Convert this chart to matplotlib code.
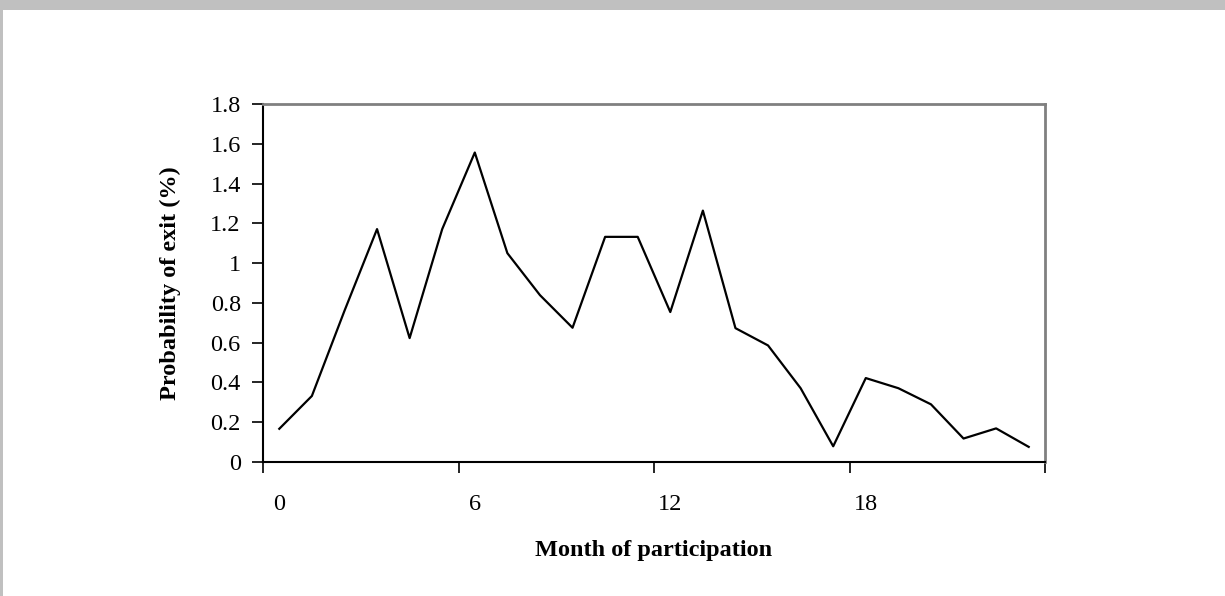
import numpy as np
import matplotlib
matplotlib.use("Agg")
import matplotlib.pyplot as plt
from matplotlib.patches import Rectangle

# monthly exit probability (%)
months = list(range(24))
exit_prob = [0.167, 0.332, 0.76, 1.171, 0.623, 1.171, 1.556, 1.05, 0.839, 0.675,
             1.132, 1.132, 0.754, 1.264, 0.673, 0.586, 0.371, 0.079, 0.422, 0.371,
             0.29, 0.118, 0.169, 0.076]
xtick_labels = ["0", "6", "12", "18"]
ytick_vals = [0, 0.2, 0.4, 0.6, 0.8, 1, 1.2, 1.4, 1.6, 1.8]

plt.rcParams["font.family"] = ["Liberation Serif", "DejaVu Serif"]

fig = plt.figure(figsize=(12.25, 5.96), dpi=100)
fig.patch.set_facecolor("white")

# grey page frame (top band and left edge)
fig.patches.append(Rectangle((0, 1 - 10 / 596), 1, 10 / 596, transform=fig.transFigure,
                             facecolor="#c0c0c0", edgecolor="none", zorder=0))
fig.patches.append(Rectangle((0, 0), 2.5 / 1225, 1 - 10 / 596, transform=fig.transFigure,
                             facecolor="#c0c0c0", edgecolor="none", zorder=0))

ax = fig.add_axes([263 / 1225, 1 - 462 / 596, (1045 - 263) / 1225, (462 - 104) / 596])

ax.plot(months, exit_prob, color="black", linewidth=1.6)

ax.set_xlim(-0.5, len(months) - 0.5)
ax.set_ylim(0, 1.8)

# tick marks between categories, labels at category centres
ax.set_xticks(np.arange(-0.5, len(months), 6))
ax.set_xticklabels([])
ax.set_xticks([0, 6, 12, 18], minor=True)
ax.set_xticklabels(xtick_labels, minor=True)
ax.tick_params(axis="x", which="major", direction="out", length=8, width=1.2, color="black")
ax.tick_params(axis="x", which="minor", length=0, pad=23, labelsize=17.5)

ax.set_yticks(ytick_vals)
ax.set_yticklabels(["0", "0.2", "0.4", "0.6", "0.8", "1", "1.2", "1.4", "1.6", "1.8"])
ax.tick_params(axis="y", direction="out", length=8, width=1.2, pad=8, labelsize=17.5)

for side in ["top", "right"]:
    ax.spines[side].set_color("#808080")
    ax.spines[side].set_linewidth(2)
for side in ["left", "bottom"]:
    ax.spines[side].set_color("black")
    ax.spines[side].set_linewidth(1.5)

ax.set_xlabel("Month of participation", fontsize=17.5, fontweight="bold", labelpad=18)
ax.set_ylabel("Probability of exit (%)", fontsize=17.5, fontweight="bold", labelpad=21)

fig.savefig("out.png", dpi=100, facecolor="white")
